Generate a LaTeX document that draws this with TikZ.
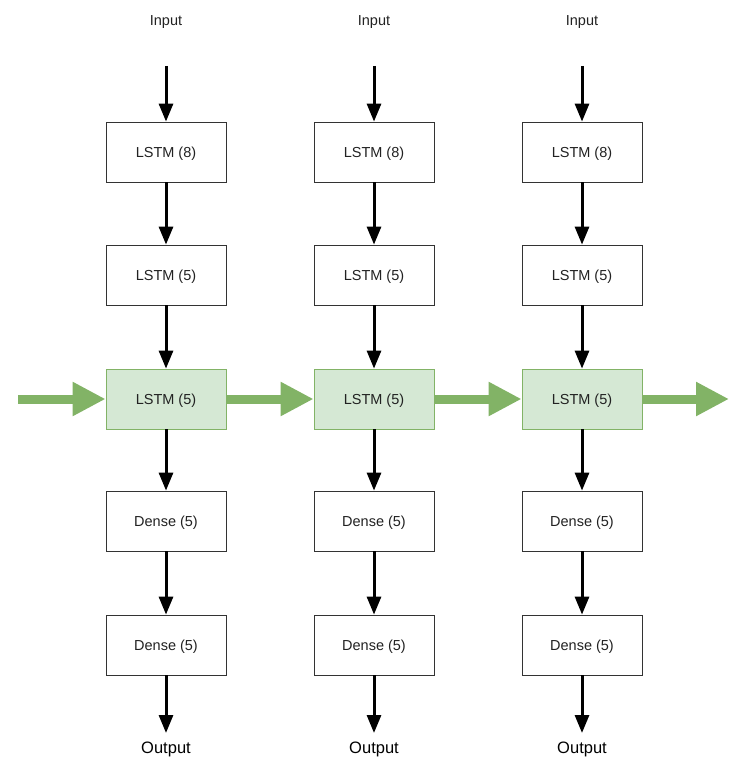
\documentclass[tikz,border=0pt]{standalone}
\usepackage{fontspec}
\setmainfont{Liberation Sans}
\usetikzlibrary{arrows.meta}
\definecolor{gfill}{HTML}{D5E8D4}
\definecolor{gline}{HTML}{82B366}
\definecolor{txt}{HTML}{222222}
\tikzset{
  layerbox/.style={draw=black!80, line width=0.8pt, fill=white, minimum width=120pt, minimum height=60pt, inner sep=0pt, text depth=0pt, font=\fontsize{14.5}{16}\selectfont, text=txt},
  recbox/.style={layerbox, draw=gline, fill=gfill},
  flow/.style={line width=3pt, -{Triangle[width=14pt,length=18pt]}},
  recflow/.style={line width=9pt, draw=gline, -{Triangle[width=32pt,length=33pt]}, color=gline},
  lbl/.style={inner sep=0pt, font=\fontsize{14.5}{16}\selectfont, text=txt},
  olbl/.style={inner sep=0pt, font=\fontsize{16.5}{18}\selectfont, text=black}
}
\begin{document}
\begin{tikzpicture}[x=1pt,y=-1pt]
\useasboundingbox (0,0) rectangle (741,770);
\foreach \c/\x in {a/166,b/374,c/582}{
  \node[lbl] (in\c) at (\x,22) {Input};
  \coordinate (ins\c) at (\x,66);
  \node[layerbox] (l1\c) at (\x,152) {LSTM (8)};
  \node[layerbox] (l2\c) at (\x,275) {LSTM (5)};
  \node[recbox] (l3\c) at (\x,399) {LSTM (5)};
  \node[layerbox] (d1\c) at (\x,521) {Dense (5)};
  \node[layerbox] (d2\c) at (\x,645) {Dense (5)};
  \coordinate (oute\c) at (\x,733);
  \node[olbl] (out\c) at (\x,749) {Output};
  \draw[flow] (ins\c) -- (l1\c);
  \draw[flow] (l1\c) -- (l2\c);
  \draw[flow] (l2\c) -- (l3\c);
  \draw[flow] (l3\c) -- (d1\c);
  \draw[flow] (d1\c) -- (d2\c);
  \draw[flow] (d2\c.south) -- (oute\c);
}
\coordinate (rs) at (18,399);
\coordinate (re) at (729,399);
\draw[recflow] (rs) -- (l3a.west);
\draw[recflow] (l3a.east) -- (l3b.west);
\draw[recflow] (l3b.east) -- (l3c.west);
\draw[recflow] (l3c.east) -- (re);
\end{tikzpicture}
\end{document}
